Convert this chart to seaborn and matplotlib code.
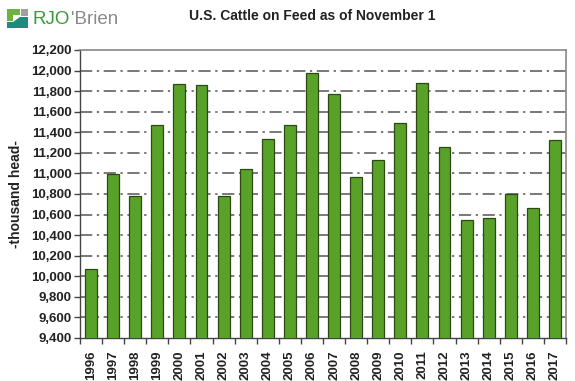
import matplotlib
matplotlib.use("Agg")
import matplotlib.pyplot as plt
import matplotlib.patches as mpatches
import pandas as pd
import seaborn as sns

years = [str(y) for y in range(1996, 2018)]
head = [10070, 10990, 10785, 11475, 11868, 11858, 10785, 11040, 11335, 11475, 11972,
        11772, 10965, 11128, 11490, 11882, 11253, 10548, 10565, 10800, 10660, 11324]
y_ticks = list(range(9400, 12201, 200))

df = pd.DataFrame({"year": years, "head": head})

sns.set_theme(style="white")
plt.rcParams["font.family"] = ["Liberation Sans", "DejaVu Sans"]

fig = plt.figure(figsize=(5.75, 3.81), dpi=100)
ax = fig.add_axes([80 / 575, 1 - 338 / 381, (566 - 80) / 575, (338 - 50) / 381])

sns.barplot(data=df, x="year", y="head", color="#58a22a", saturation=1,
            width=0.54, edgecolor="#2d4a14", linewidth=0.9, ax=ax, zorder=3)

ax.set_ylim(9400, 12200)
ax.set_xlim(-0.5, len(years) - 0.5)
ax.set_yticks(y_ticks)
ax.set_yticklabels([f"{v:,}" for v in y_ticks], fontsize=9.5, fontweight="bold", color="#222222")
ax.set_xticks(range(len(years)))
ax.set_xticklabels(years, rotation=90, fontsize=9.5, fontweight="bold", color="#222222")

# grid lines, dash-dot
for v in y_ticks[1:-1]:
    ax.axhline(v, color="#555555", lw=1.1, ls=(0, (8, 3, 1.5, 3)), zorder=1)

for side in ["top", "right"]:
    ax.spines[side].set_color("#888888")
    ax.spines[side].set_linewidth(1.2)
for side in ["left", "bottom"]:
    ax.spines[side].set_color("#444444")
    ax.spines[side].set_linewidth(1.0)

ax.tick_params(axis="y", direction="out", length=4, width=1, color="#444444", left=True, pad=2)
ax.tick_params(axis="x", bottom=False, pad=3)
# x ticks between categories
ax.set_xticks([i - 0.5 for i in range(len(years) + 1)], minor=True)
ax.tick_params(axis="x", which="minor", bottom=True, direction="out", length=4, width=1, color="#444444")

ax.set_xlabel("")
ax.set_ylabel("-thousand head-", fontsize=10, fontweight="bold", color="#222222", labelpad=6)

fig.text(312 / 575, 1 - 16 / 381, "U.S. Cattle on Feed as of November 1", ha="center", va="center",
         fontsize=10, fontweight="bold", color="#222222")

# logo
def px_rect(x, y, w, h, c):
    fig.patches.append(mpatches.Rectangle((x / 575, 1 - (y + h) / 381), w / 575, h / 381,
                                          transform=fig.transFigure, color=c, lw=0))

px_rect(7, 9, 6, 12, "#6db33f")
px_rect(7, 9, 13, 6, "#6db33f")
px_rect(21, 9, 7, 7, "#a0a0a0")
fig.patches.append(mpatches.Polygon([(7 / 575, 1 - 28 / 381), (28 / 575, 1 - 28 / 381),
                                     (28 / 575, 1 - 17 / 381), (20 / 575, 1 - 17 / 381),
                                     (13 / 575, 1 - 22 / 381), (7 / 575, 1 - 22 / 381)],
                                    closed=True, transform=fig.transFigure, color="#1e8c7a", lw=0))
t1 = fig.text(32 / 575, 1 - 19 / 381, "RJO", ha="left", va="center", fontsize=13.5,
              color="#3a9a3a")
fig.canvas.draw()
bb = t1.get_window_extent()
fig.text(bb.x1 / 575 + 0.002, 1 - 19 / 381, "'Brien", ha="left", va="center", fontsize=13.5,
         color="#8a8a8a")

fig.savefig("out.png", dpi=100)
